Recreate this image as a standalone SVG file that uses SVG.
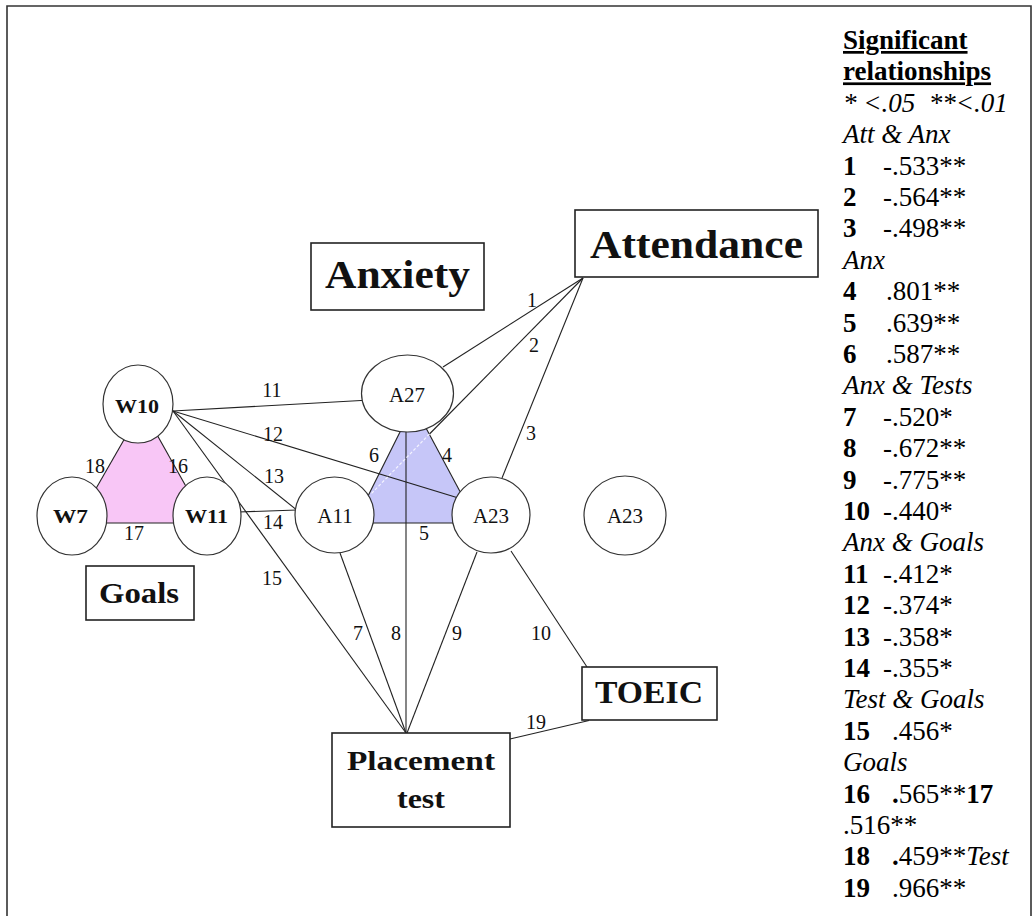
<svg xmlns="http://www.w3.org/2000/svg" width="1033" height="916" viewBox="0 0 1033 916">
<style>
.ln{stroke:#222;stroke-width:1.1;fill:none}
.nd{fill:#fff;stroke:#333;stroke-width:1.2}
.bx{fill:#fff;stroke:#222;stroke-width:1.6}
.big{font-family:"Liberation Serif","Times New Roman",serif;font-weight:bold;fill:#111}
.lab{font-family:"Liberation Serif","Times New Roman",serif;font-size:21px;fill:#111;text-anchor:middle}
.wl{font-family:"Liberation Serif","Times New Roman",serif;font-size:18px;font-weight:bold;fill:#111}
.num{font-family:"Liberation Serif","Times New Roman",serif;font-size:20px;fill:#111;text-anchor:middle}
.leg{font-family:"Liberation Serif","Times New Roman",serif;font-size:27px;fill:#000}
.b{font-weight:bold}
.i{font-style:italic}
</style>
<rect width="1033" height="916" fill="#fff"/>
<path d="M7,916 V6 H1031 V916" fill="none" stroke="#333" stroke-width="1.6"/>

<g id="groups">
<polygon id="goals-triangle" points="142,407 77,523 206,523" fill="#f8c6f6"/>
<polygon id="anxiety-triangle" points="413.5,404.6 355,523 476.5,523" fill="#c6c6f8"/>
</g>

<g id="connectors">
<line class="ln" x1="583" y1="278" x2="443" y2="367"/>
<line class="ln" x1="583" y1="278" x2="429.5" y2="434"/>
<line class="ln" x1="583" y1="278" x2="502" y2="478"/>
<line class="ln" x1="401" y1="430" x2="366" y2="500"/>
<line class="ln" x1="426" y1="428" x2="464" y2="499"/>
<line class="ln" x1="370" y1="523" x2="458" y2="523"/>
<line class="ln" x1="406" y1="432" x2="406" y2="733"/>
<line class="ln" x1="340" y1="553" x2="406" y2="733"/>
<line class="ln" x1="477" y1="552" x2="407" y2="733"/>
<line class="ln" x1="511" y1="551" x2="587" y2="667"/>
<line class="ln" x1="173" y1="411" x2="370" y2="400"/>
<line class="ln" x1="173" y1="411" x2="465" y2="500"/>
<line class="ln" x1="173" y1="411" x2="298" y2="511"/>
<line class="ln" x1="238" y1="512" x2="297" y2="510"/>
<line class="ln" x1="173" y1="411" x2="406" y2="733"/>
<line class="ln" x1="125" y1="438" x2="94" y2="492"/>
<line class="ln" x1="156" y1="433" x2="188" y2="490"/>
<line class="ln" x1="102" y1="523" x2="178" y2="523"/>
<line class="ln" x1="510" y1="739" x2="589" y2="720.5"/>
<line x1="429.5" y1="434" x2="371" y2="494" stroke="#f4f4ff" stroke-width="1.2" stroke-dasharray="3 2"/>
</g>

<g id="node-W10"><ellipse class="nd" cx="138" cy="404" rx="35" ry="39"/><text class="wl" x="115" y="413" textLength="44" lengthAdjust="spacingAndGlyphs">W10</text></g>
<g id="node-W7"><ellipse class="nd" cx="72" cy="516" rx="35" ry="39"/><text class="wl" x="53" y="523" textLength="35" lengthAdjust="spacingAndGlyphs">W7</text></g>
<g id="node-W11"><ellipse class="nd" cx="207" cy="516" rx="34" ry="39"/><text class="wl" x="185" y="523" textLength="43" lengthAdjust="spacingAndGlyphs">W11</text></g>
<g id="node-A27"><ellipse class="nd" cx="407.5" cy="393.5" rx="46" ry="38.5"/><text class="lab" x="407" y="402">A27</text></g>
<g id="node-A11"><ellipse class="nd" cx="334.5" cy="515" rx="39.5" ry="38"/><text class="lab" x="335" y="523">A11</text></g>
<g id="node-A23"><ellipse class="nd" cx="491" cy="515" rx="39" ry="38"/><text class="lab" x="491" y="523">A23</text></g>
<g id="node-A23b"><ellipse class="nd" cx="625" cy="515.5" rx="41" ry="39.5"/><text class="lab" x="625" y="523">A23</text></g>

<g id="node-attendance"><rect class="bx" x="575" y="210" width="243" height="67"/><text class="big" x="590" y="258" font-size="40" textLength="213" lengthAdjust="spacingAndGlyphs">Attendance</text></g>
<g id="node-anxiety"><rect class="bx" x="311" y="243" width="173" height="67"/><text class="big" x="325" y="288" font-size="40" textLength="145" lengthAdjust="spacingAndGlyphs">Anxiety</text></g>
<g id="node-goals"><rect class="bx" x="86" y="566" width="108" height="54"/><text class="big" x="99" y="603" font-size="30" textLength="80" lengthAdjust="spacingAndGlyphs">Goals</text></g>
<g id="node-toeic"><rect class="bx" x="582" y="667" width="135" height="53"/><text class="big" x="595" y="703" font-size="32" textLength="108" lengthAdjust="spacingAndGlyphs">TOEIC</text></g>
<g id="node-placement"><rect class="bx" x="332" y="733" width="178" height="94"/><text class="big" x="347" y="770" font-size="27" textLength="148" lengthAdjust="spacingAndGlyphs">Placement</text><text class="big" x="397" y="808" font-size="27" textLength="48" lengthAdjust="spacingAndGlyphs">test</text></g>

<g id="connector-labels">
<text class="num" x="532" y="307">1</text>
<text class="num" x="534" y="352">2</text>
<text class="num" x="531" y="440">3</text>
<text class="num" x="447" y="462">4</text>
<text class="num" x="424" y="540">5</text>
<text class="num" x="374" y="462">6</text>
<text class="num" x="358" y="640">7</text>
<text class="num" x="396" y="640">8</text>
<text class="num" x="457" y="640">9</text>
<text class="num" x="541" y="640">10</text>
<text class="num" x="272" y="397">11</text>
<text class="num" x="273" y="441">12</text>
<text class="num" x="274" y="483">13</text>
<text class="num" x="273" y="529">14</text>
<text class="num" x="272" y="585">15</text>
<text class="num" x="178" y="473">16</text>
<text class="num" x="134" y="540">17</text>
<text class="num" x="95" y="473">18</text>
<text class="num" x="536" y="729">19</text>
</g>

<g id="legend" class="leg">
<text x="843" y="49" class="b" text-decoration="underline">Significant</text>
<text x="843" y="80.4" class="b" text-decoration="underline">relationships</text>
<text x="843" y="111.8" class="i" xml:space="preserve">* &lt;.05  **&lt;.01</text>
<text x="843" y="143.2" class="i">Att &amp; Anx</text>
<text y="174.6"><tspan x="843" class="b">1</tspan><tspan x="883">-.533**</tspan></text>
<text y="206"><tspan x="843" class="b">2</tspan><tspan x="883">-.564**</tspan></text>
<text y="237.4"><tspan x="843" class="b">3</tspan><tspan x="883">-.498**</tspan></text>
<text x="843" y="268.8" class="i">Anx</text>
<text y="300.2"><tspan x="843" class="b">4</tspan><tspan x="886">.801**</tspan></text>
<text y="331.6"><tspan x="843" class="b">5</tspan><tspan x="886">.639**</tspan></text>
<text y="363"><tspan x="843" class="b">6</tspan><tspan x="886">.587**</tspan></text>
<text x="843" y="394.4" class="i">Anx &amp; Tests</text>
<text y="425.8"><tspan x="843" class="b">7</tspan><tspan x="883">-.520*</tspan></text>
<text y="457.2"><tspan x="843" class="b">8</tspan><tspan x="883">-.672**</tspan></text>
<text y="488.6"><tspan x="843" class="b">9</tspan><tspan x="883">-.775**</tspan></text>
<text y="520"><tspan x="843" class="b">10</tspan><tspan x="883">-.440*</tspan></text>
<text x="843" y="551.4" class="i">Anx &amp; Goals</text>
<text y="582.8"><tspan x="843" class="b">11</tspan><tspan x="883">-.412*</tspan></text>
<text y="614.2"><tspan x="843" class="b">12</tspan><tspan x="883">-.374*</tspan></text>
<text y="645.6"><tspan x="843" class="b">13</tspan><tspan x="883">-.358*</tspan></text>
<text y="677"><tspan x="843" class="b">14</tspan><tspan x="883">-.355*</tspan></text>
<text x="843" y="708.4" class="i">Test &amp; Goals</text>
<text y="739.8"><tspan x="843" class="b">15</tspan><tspan x="892">.456*</tspan></text>
<text x="843" y="771.2" class="i">Goals</text>
<text y="802.6"><tspan x="843" class="b">16</tspan><tspan x="892" class="b">.</tspan><tspan>565**</tspan><tspan class="b">17</tspan></text>
<text x="843" y="834">.516**</text>
<text y="865.4"><tspan x="843" class="b">18</tspan><tspan x="892" class="b">.</tspan><tspan>459**</tspan><tspan class="i">Test</tspan></text>
<text y="896.8"><tspan x="843" class="b">19</tspan><tspan x="892">.966**</tspan></text>
</g>
</svg>
